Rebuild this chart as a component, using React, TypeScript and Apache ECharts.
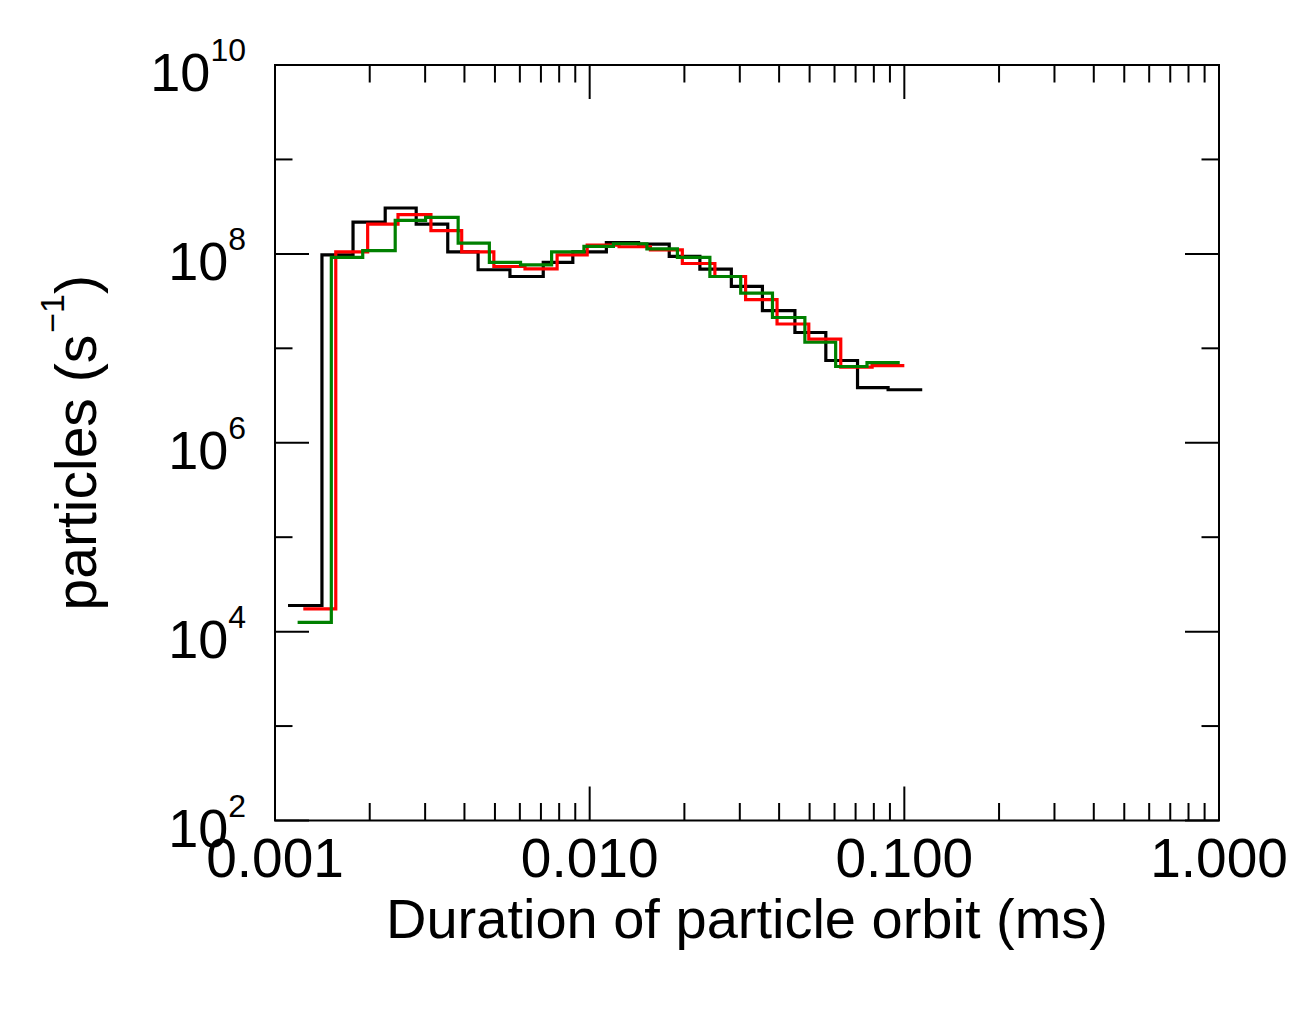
import React, { useEffect, useRef } from 'react';
import * as echarts from 'echarts';

// Histogram bin edges (ms) and rates (s^-1) for the three runs
const blackEdges = [0.0011, 0.00141, 0.00177, 0.00224, 0.00281, 0.00354, 0.00442, 0.00558, 0.00712, 0.00884, 0.0113, 0.0143, 0.0179, 0.0224, 0.0282, 0.0354, 0.0449, 0.0563, 0.071, 0.0888, 0.114];
const blackValues = [1.89e4, 9.78e7, 2.17e8, 3.06e8, 2.07e8, 1.05e8, 6.79e7, 5.76e7, 8.11e7, 1.05e8, 1.32e8, 1.27e8, 9.39e7, 6.9e7, 4.52e7, 2.51e7, 1.47e7, 7.43e6, 3.84e6, 3.64e6];

const redEdges = [0.00123, 0.00156, 0.00197, 0.00246, 0.00313, 0.00392, 0.00496, 0.00623, 0.00788, 0.00982, 0.0124, 0.0156, 0.0197, 0.025, 0.0313, 0.0394, 0.0497, 0.0628, 0.079, 0.1];
const redValues = [1.74e4, 1.05e8, 2.07e8, 2.6e8, 1.76e8, 1.05e8, 7.35e7, 6.95e7, 9.78e7, 1.24e8, 1.19e8, 1.1e8, 7.91e7, 5.76e7, 3.27e7, 1.81e7, 1.25e7, 6.32e6, 6.57e6];

const greenEdges = [0.00118, 0.00151, 0.0019, 0.00241, 0.00301, 0.00382, 0.0048, 0.00603, 0.00757, 0.00959, 0.0119, 0.0152, 0.019, 0.0241, 0.0302, 0.0381, 0.0483, 0.0605, 0.0761, 0.0967];
const greenValues = [1.25e4, 9.16e7, 1.08e8, 2.26e8, 2.43e8, 1.3e8, 8.11e7, 7.66e7, 1.05e8, 1.2e8, 1.28e8, 1.13e8, 9.16e7, 5.76e7, 3.84e7, 2.12e7, 1.16e7, 6.42e6, 7.07e6];

// Axis ranges and tick positions
const xMin = 0.001;
const xMax = 1;
const yMin = 1e2;
const yMax = 1e10;
const xMajorTicks = [0.001, 0.01, 0.1, 1];
const xMinorTicks = [
  0.002, 0.003, 0.004, 0.005, 0.006, 0.007, 0.008, 0.009,
  0.02, 0.03, 0.04, 0.05, 0.06, 0.07, 0.08, 0.09,
  0.2, 0.3, 0.4, 0.5, 0.6, 0.7, 0.8, 0.9,
];
const yMajorTicks = [1e2, 1e4, 1e6, 1e8, 1e10];
const yMinorTicks = [1e3, 1e5, 1e7, 1e9];

const xAxisTitle = 'Duration of particle orbit (ms)';
const yAxisTitle = '{a|particles (s}{b|\u22121}{a|)}';

const FONT = '"Liberation Sans", Arial, Helvetica, sans-serif';

function stepPoints(edges: number[], values: number[]) {
  const pts: number[][] = [];
  for (let i = 0; i < values.length; i++) {
    pts.push([edges[i], values[i]]);
    pts.push([edges[i + 1], values[i]]);
  }
  return pts;
}

export default function App() {
  const ref = useRef<HTMLDivElement>(null);

  useEffect(() => {
    document.body.style.margin = '0';
    const chart = echarts.init(ref.current!, null, { renderer: 'svg' });

    const MAJ = 34;
    const MIN = 17.5;
    const xTickData = [
      ...xMajorTicks.map((v) => [v, yMin, MAJ]),
      ...xMinorTicks.map((v) => [v, yMin, MIN]),
    ];
    const yTickData = [
      ...yMajorTicks.map((v) => [xMin, v, MAJ]),
      ...yMinorTicks.map((v) => [xMin, v, MIN]),
    ];
    const tickStyle = { stroke: '#000', lineWidth: 2 };

    const lineSeries = (name: string, edges: number[], values: number[], color: string) => ({
      name,
      type: 'line',
      data: stepPoints(edges, values),
      showSymbol: false,
      symbol: 'none',
      lineStyle: { color, width: 3.2, join: 'miter', cap: 'butt' },
      itemStyle: { color },
      silent: true,
      z: 3,
    });

    chart.setOption({
      animation: false,
      backgroundColor: '#fff',
      grid: {
        left: 275,
        top: 65,
        width: 944,
        height: 755.5,
        show: true,
        borderColor: '#000',
        borderWidth: 2,
        backgroundColor: 'transparent',
        z: 10,
      },
      xAxis: {
        type: 'log',
        logBase: 10,
        min: xMin,
        max: xMax,
        axisLine: { show: false },
        axisTick: { show: false },
        splitLine: { show: false },
        axisLabel: {
          formatter: (v: number) => v.toFixed(3),
          fontSize: 55,
          fontFamily: FONT,
          color: '#000',
          margin: 10,
        },
        name: xAxisTitle,
        nameLocation: 'middle',
        nameGap: 68,
        nameTextStyle: { fontSize: 56, fontFamily: FONT, color: '#000' },
      },
      yAxis: {
        type: 'log',
        logBase: 10,
        min: yMin,
        max: yMax,
        axisLine: { show: false },
        axisTick: { show: false },
        splitLine: { show: false },
        axisLabel: {
          formatter: (v: number) => {
            const e = Math.round(Math.log10(v));
            return e % 2 === 0 ? `{a|10}{b|${e}}` : '';
          },
          margin: 29,
          color: '#000',
          rich: {
            a: { fontSize: 54, lineHeight: 54, padding: [14, 0, 0, 0], fontFamily: FONT, color: '#000' },
            b: { fontSize: 32, lineHeight: 32, padding: [3, 0, 33, 0], fontFamily: FONT, color: '#000' },
          },
        },
        name: yAxisTitle,
        nameLocation: 'middle',
        nameRotate: 90,
        nameGap: 177,
        nameTextStyle: {
          color: '#000',
          rich: {
            a: { fontSize: 57, lineHeight: 57, padding: [12, 0, 0, 0], fontFamily: FONT, color: '#000' },
            b: { fontSize: 34, lineHeight: 34, padding: [0, 0, 35, 2], fontFamily: FONT, color: '#000' },
          },
        },
      },
      series: [
        lineSeries('black', blackEdges, blackValues, '#000000'),
        lineSeries('red', redEdges, redValues, '#ff0000'),
        lineSeries('green', greenEdges, greenValues, '#008000'),
        {
          type: 'custom',
          silent: true,
          data: xTickData,
          z: 11,
          renderItem: (params: any, api: any) => {
            const xv = api.value(0);
            const len = api.value(2);
            const b = api.coord([xv, yMin]);
            const t = api.coord([xv, yMax]);
            return {
              type: 'group',
              children: [
                { type: 'line', shape: { x1: b[0], y1: b[1], x2: b[0], y2: b[1] - len }, style: tickStyle },
                { type: 'line', shape: { x1: t[0], y1: t[1], x2: t[0], y2: t[1] + len }, style: tickStyle },
              ],
            };
          },
        },
        {
          type: 'custom',
          silent: true,
          data: yTickData,
          z: 11,
          renderItem: (params: any, api: any) => {
            const yv = api.value(1);
            const len = api.value(2);
            const l = api.coord([xMin, yv]);
            const r = api.coord([xMax, yv]);
            return {
              type: 'group',
              children: [
                { type: 'line', shape: { x1: l[0], y1: l[1], x2: l[0] + len, y2: l[1] }, style: tickStyle },
                { type: 'line', shape: { x1: r[0], y1: r[1], x2: r[0] - len, y2: r[1] }, style: tickStyle },
              ],
            };
          },
        },
      ],
    });

    return () => {
      chart.dispose();
    };
  }, []);

  return <div ref={ref} style={{ width: 1314, height: 1034 }} />;
}
